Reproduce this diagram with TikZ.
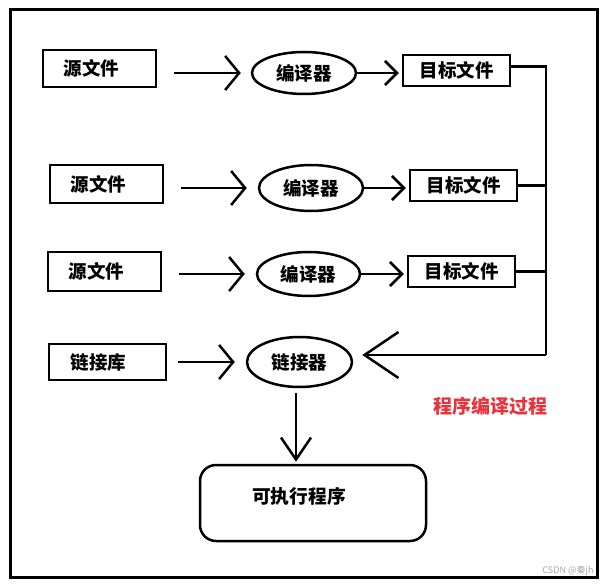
\documentclass[tikz,border=0pt]{standalone}
\usepackage{fontspec}
\setmainfont{Noto Sans CJK SC}
\usepackage{xcolor}
\usepackage{tikz}
\usetikzlibrary{shapes.geometric, arrows.meta}
\definecolor{redtxt}{HTML}{E8323C}
\tikzstyle{filebox} = [
    draw,
    rectangle,
    line width=2.5pt,
    inner sep=0pt,
    font=\fontsize{18.5}{21}\selectfont\bfseries
]
\tikzstyle{tool} = [
    draw,
    ellipse,
    line width=2.5pt,
    inner sep=0pt,
    font=\fontsize{18.5}{21}\selectfont\bfseries
]
\tikzstyle{exebox} = [
    draw,
    rectangle,
    rounded corners=16pt,
    line width=2.5pt,
    inner sep=0pt
]
\tikzstyle{arrow} = [
    line width=2.5pt,
    -{Straight Barb[length=14pt,width=34pt,line width=2.5pt]}
]
\tikzstyle{shortarrow} = [
    line width=2.5pt,
    -{Straight Barb[length=12pt,width=24pt,line width=2.5pt]}
]

\begin{document}
\begin{tikzpicture}[x=1pt,y=-1pt]
\useasboundingbox (0,0) rectangle (613,588);

\draw[line width=3pt] (10,10) rectangle (597,577);

\node[filebox, minimum width=113, minimum height=37] (src1) at (99.5,68.5) {\kern-16pt 源文件};
\node[tool, minimum width=104, minimum height=42] (cmp1) at (304,73) {编译器};
\node[filebox, minimum width=107, minimum height=31] (obj1) at (456.5,70.5) {目标文件};

\node[filebox, minimum width=113, minimum height=38] (src2) at (106.5,184) {\kern-16pt 源文件};
\node[tool, minimum width=104, minimum height=46] (cmp2) at (311,188) {编译器};
\node[filebox, minimum width=107, minimum height=31] (obj2) at (463.5,185.5) {目标文件};

\node[filebox, minimum width=113, minimum height=39] (src3) at (104.5,271.5) {\kern-16pt 源文件};
\node[tool, minimum width=103, minimum height=44] (cmp3) at (308.5,274) {编译器};
\node[filebox, minimum width=107, minimum height=31] (obj3) at (461.5,271.5) {目标文件};

\node[filebox, minimum width=117, minimum height=36] (lib) at (107.5,362) {\kern-18pt 链接库};
\node[tool, minimum width=105, minimum height=50] (lnk) at (299.5,362) {链接器};

\node[exebox, minimum width=226, minimum height=76] (exe) at (313,503) {};
\node[font=\fontsize{18.7}{21}\selectfont\bfseries] (exetext) at (299,496) {可执行程序};
\coordinate (exetop) at (296,465);

\node[font=\fontsize{19}{21}\selectfont\bfseries, text=redtxt] (title) at (490,406) {程序编译过程};
\node[font=\fontsize{9}{10}\selectfont, text=gray!70] (mark) at (568,571) {CSDN @秦jh};

\coordinate (bus) at (546,355);

% sources to compilers
\draw[arrow, shorten <=17pt, shorten >=10pt] (src1.east |- cmp1.west) -- (cmp1.west);
\draw[arrow, shorten <=17pt, shorten >=11pt] (src2.east |- cmp2.west) -- (cmp2.west);
\draw[arrow, shorten <=17pt, shorten >=11pt] (src3.east |- cmp3.west) -- (cmp3.west);
\draw[arrow, shorten <=11pt, shorten >=11pt] (lib.east |- lnk.west) -- (lnk.west);

% compilers to objects
\draw[shortarrow, shorten >=3pt] (cmp1.east) -- (obj1.west |- cmp1.east);
\draw[shortarrow, shorten >=3pt] (cmp2.east) -- (obj2.west |- cmp2.east);
\draw[shortarrow, shorten >=3pt] (cmp3.east) -- (obj3.west |- cmp3.east);

% objects to linker
\draw[line width=2.5pt] ([yshift=4pt]obj1.east) -| (bus);
\draw[line width=2.5pt] (obj2.east) -- (obj2.east -| bus);
\draw[line width=2.5pt] (obj3.east) -- (obj3.east -| bus);
\draw[line width=2.5pt, -{Straight Barb[length=34pt,width=46pt,line width=2.5pt]}, shorten >=9pt] (bus) -- (lnk.east |- bus);

% linker to executable
\draw[line width=2.5pt, -{Straight Barb[length=22pt,width=30pt,line width=2.5pt]}, shorten <=5pt, shorten >=2pt] (lnk.south -| exetop) -- (exe.north -| exetop);

\end{tikzpicture}
\end{document}
